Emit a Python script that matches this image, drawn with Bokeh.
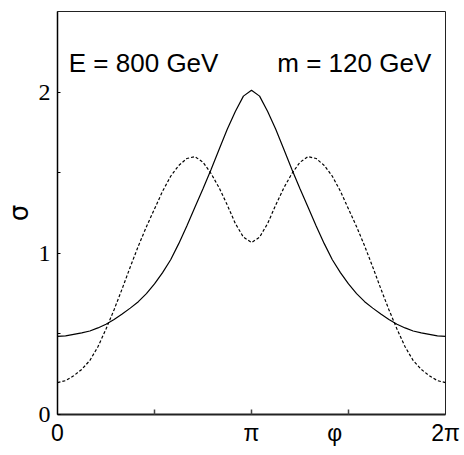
import numpy as np
from bokeh.plotting import figure
from bokeh.models import Range1d, FixedTicker, Label
from bokeh.embed import file_html
from bokeh.resources import INLINE

# sampling angles (degrees)
phi_deg = [0, 7.5, 15, 22.5, 30, 37.5, 45, 52.5, 60, 67.5, 75, 82.5, 90,
           97.5, 105, 112.5, 120, 127.5, 135, 142.5, 150, 157.5, 165, 172.5, 180,
           187.5, 195, 202.5, 210, 217.5, 225, 232.5, 240, 247.5, 255, 262.5, 270,
           277.5, 285, 292.5, 300, 307.5, 315, 322.5, 330, 337.5, 345, 352.5, 360]

sigma_solid = [0.485, 0.488, 0.497, 0.506, 0.518, 0.537, 0.56, 0.59, 0.623, 0.66, 0.70, 0.75, 0.81,
               0.88, 0.96, 1.06, 1.17, 1.285, 1.40, 1.52, 1.645, 1.77, 1.88, 1.975, 2.012,
               1.975, 1.88, 1.77, 1.645, 1.52, 1.40, 1.285, 1.17, 1.06, 0.96, 0.88, 0.81,
               0.75, 0.70, 0.66, 0.623, 0.59, 0.56, 0.537, 0.518, 0.506, 0.497, 0.488, 0.485]

sigma_dashed = [0.198, 0.21, 0.24, 0.28, 0.335, 0.42, 0.53, 0.65, 0.78, 0.915, 1.045, 1.165, 1.275,
                1.385, 1.478, 1.545, 1.588, 1.60, 1.565, 1.495, 1.406, 1.30, 1.185, 1.10, 1.067,
                1.10, 1.185, 1.30, 1.406, 1.495, 1.565, 1.60, 1.588, 1.545, 1.478, 1.385, 1.275,
                1.165, 1.045, 0.915, 0.78, 0.65, 0.53, 0.42, 0.335, 0.28, 0.24, 0.21, 0.198]

# x axis: labelled positions (the axis name φ sits between π and 2π, as in the original)
x_label_pos = [0, np.pi, 4.49, 2 * np.pi]
x_tick_labels = ["0", "π", "φ", "2π"]
x_tick_marks = [np.pi / 2, np.pi, 3 * np.pi / 2]
y_ticks = [0, 1, 2]
y_minor = [0.5, 1.5]

phi = np.radians(phi_deg)

p = figure(width=464, height=455, output_backend="svg", toolbar_location=None,
           x_range=Range1d(0, 2 * np.pi), y_range=Range1d(0, 2.5),
           min_border_left=57, min_border_right=19, min_border_top=11, min_border_bottom=41)
p.background_fill_color = "white"
p.border_fill_color = "white"
p.grid.visible = False
p.outline_line_color = "#222222"
p.outline_line_width = 1

p.line(phi, sigma_solid, line_color="black", line_width=1.2)
p.line(phi, sigma_dashed, line_color="black", line_width=1.2, line_dash="3 2")

xa = p.xaxis[0]
xa.ticker = FixedTicker(ticks=x_label_pos, minor_ticks=x_tick_marks)
xa.major_label_overrides = {t: l for t, l in zip(x_label_pos, x_tick_labels)}
xa.major_tick_in = 0
xa.major_tick_out = 0
xa.minor_tick_in = 5
xa.minor_tick_out = 0
xa.axis_line_width = 2
xa.axis_line_color = "#222222"
xa.minor_tick_line_color = "#444444"
xa.minor_tick_line_width = 1.5
xa.major_label_text_font = "Liberation Sans"
xa.major_label_text_font_size = "23px"
xa.major_label_text_color = "black"
xa.major_label_standoff = 5

ya = p.yaxis[0]
ya.ticker = FixedTicker(ticks=y_ticks, minor_ticks=y_minor)
ya.major_tick_in = 3
ya.major_tick_out = 0
ya.minor_tick_in = 3
ya.minor_tick_out = 0
ya.axis_line_width = 1.5
ya.axis_line_color = "black"
ya.major_label_text_font = "Liberation Serif"
ya.major_label_text_font_size = "24px"
ya.major_label_text_color = "black"
ya.major_label_standoff = 7
ya.axis_label = "σ"
ya.axis_label_text_font = "DejaVu Sans"
ya.axis_label_text_font_style = "normal"
ya.axis_label_text_font_size = "26px"
ya.axis_label_text_color = "black"
ya.axis_label_standoff = 2

p.add_layout(Label(x=0.183, y=2.178, text="E = 800 GeV", text_font="Liberation Sans",
                   text_font_size="26px", text_color="black", text_align="left",
                   text_baseline="alphabetic"))
p.add_layout(Label(x=6.052, y=2.178, text="m = 120 GeV", text_font="Liberation Sans",
                   text_font_size="26px", text_color="black", text_align="right",
                   text_baseline="alphabetic"))

open("out.html", "w").write(file_html(p, INLINE))
